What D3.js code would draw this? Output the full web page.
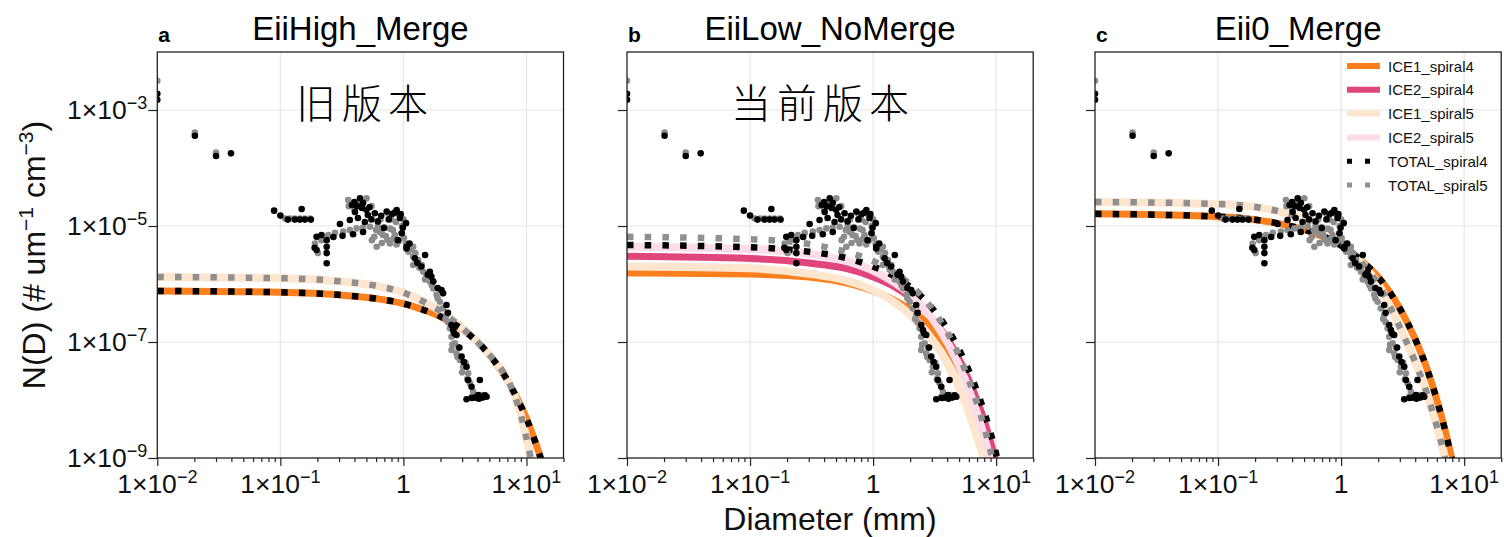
<!DOCTYPE html>
<html>
<head>
<meta charset="utf-8">
<script src="https://cdn.jsdelivr.net/npm/d3@7"></script>
<style>
  body { margin: 0; background: #fff; }
  svg { display: block; font-family: "Liberation Sans", Arial, Helvetica, sans-serif; }
</style>
</head>
<body>
<svg id="chart" width="1504" height="537"></svg>
<script>
// ---------------- data ----------------
// diameters (mm) at which the fitted size distributions were read
const diam = [0.01, 0.1, 0.3, 0.6, 1, 1.5, 2, 3, 4, 5, 6, 7, 8, 9, 10, 12, 14];

// panel a : EiiHigh_Merge  (N(D), # um^-1 cm^-3)
const a_ice1_s4 = [7.6e-7, 7.2e-7, 6.5e-7, 5.6e-7, 4.6e-7, 3.5e-7, 2.75e-7, 1.66e-7, 1.0e-7, 6.0e-8, 3.6e-8, 2.2e-8, 1.3e-8, 7.9e-9, 4.8e-9, 1.7e-9, 6.3e-10];
const a_ice1_s5 = [1.32e-6, 1.26e-6, 1.12e-6, 9.3e-7, 7.1e-7, 4.8e-7, 3.4e-7, 1.74e-7, 1.0e-7, 6.0e-8, 3.8e-8, 2.3e-8, 1.2e-8, 5.6e-9, 2.2e-9, 3.2e-10, 5e-11];
const a_total_s4 = a_ice1_s4;   // merged: total == ice1
const a_total_s5 = a_ice1_s5;

// panel b : EiiLow_NoMerge
const b_ice1_s4 = [1.55e-6, 1.48e-6, 1.32e-6, 1.05e-6, 7.6e-7, 5.2e-7, 3.6e-7, 1.74e-7, 7.9e-8, 3.5e-8, 1.58e-8, 7.1e-9, 3.2e-9, 1.32e-9, 5.6e-10, 1e-10, 1.6e-11];
const b_ice2_s4 = [3.0e-6, 2.75e-6, 2.3e-6, 1.86e-6, 1.32e-6, 8.9e-7, 5.9e-7, 2.6e-7, 1.15e-7, 5.0e-8, 2.2e-8, 9.8e-9, 4.4e-9, 1.9e-9, 8.5e-10, 1.7e-10, 3.2e-11];
const b_ice1_s5 = [2.0e-6, 1.86e-6, 1.5e-6, 1.15e-6, 7.8e-7, 4.8e-7, 2.95e-7, 1.12e-7, 4.3e-8, 1.6e-8, 6.2e-9, 2.3e-9, 8.9e-10, 3.4e-10, 1.3e-10, 2e-11, 2.5e-12];
const b_ice2_s5 = [4.4e-6, 4.0e-6, 3.3e-6, 2.5e-6, 1.7e-6, 1.05e-6, 6.6e-7, 2.6e-7, 1.0e-7, 3.9e-8, 1.5e-8, 5.9e-9, 2.3e-9, 8.9e-10, 3.5e-10, 5e-11, 8e-12];
const b_total_s4 = [4.7e-6, 4.3e-6, 3.6e-6, 2.82e-6, 2.0e-6, 1.35e-6, 8.9e-7, 3.9e-7, 1.7e-7, 7.4e-8, 3.2e-8, 1.41e-8, 6.2e-9, 2.7e-9, 1.17e-9, 2.2e-10, 4.3e-11];
const b_total_s5 = [6.5e-6, 5.9e-6, 4.9e-6, 3.6e-6, 2.5e-6, 1.55e-6, 9.8e-7, 3.8e-7, 1.48e-7, 5.8e-8, 2.2e-8, 8.7e-9, 3.4e-9, 1.32e-9, 5.1e-10, 8e-11, 1.3e-11];

// panel c : Eii0_Merge
const c_ice1_s4 = [1.62e-5, 1.45e-5, 1.12e-5, 7.6e-6, 4.6e-6, 2.4e-6, 1.32e-6, 3.8e-7, 1.12e-7, 3.4e-8, 1.0e-8, 3.0e-9, 8.9e-10, 2.6e-10, 8e-11, 6e-12, 6e-13];
const c_ice1_s5 = [2.6e-5, 2.4e-5, 1.82e-5, 1.1e-5, 5.2e-6, 2.2e-6, 1.0e-6, 1.78e-7, 4.5e-8, 1.26e-8, 3.5e-9, 1.0e-9, 2.8e-10, 8e-11, 2.5e-11, 2e-12, 1.6e-13];
const c_total_s4 = c_ice1_s4;
const c_total_s5 = c_ice1_s5;

// observations (same in every panel): [diameter mm, N(D)]
const obs_spiral4 = [
  [0.01, 1.9e-3], [0.01, 1.5e-3], [0.0202, 3.6e-4], [0.030, 1.61e-4], [0.0397, 1.79e-4],
  [0.089, 1.84e-5], [0.100, 1.51e-5], [0.115, 1.29e-5], [0.131, 1.29e-5], [0.144, 1.29e-5],
  [0.158, 1.29e-5], [0.177, 1.29e-5], [0.149, 1.96e-5], [0.197, 6.5e-6], [0.197, 3.85e-6],
  [0.238, 5.7e-6], [0.238, 4.4e-6], [0.238, 3.4e-6], [0.238, 2.28e-6], [0.216, 7.0e-6],
  [0.19, 4.2e-6], [0.27, 6.45e-6], [0.32, 6.76e-6], [0.39, 7.2e-6], [0.47, 7.9e-6],
  [0.444, 3.0e-5], [0.382, 2.3e-5], [0.404, 1.74e-5], [0.427, 1.37e-5], [0.460, 2.04e-5],
  [0.486, 1.17e-5], [0.367, 1.27e-5], [0.514, 1.55e-5], [0.586, 1.66e-5], [0.305, 1.08e-5],
  [0.40, 2.6e-5], [0.42, 2.2e-5], [0.47, 2.5e-5], [0.50, 1.9e-5], [0.53, 2.1e-5], [0.55, 1.3e-5],
  [0.62, 1.2e-5], [0.66, 1.5e-5], [0.76, 1.3e-5], [0.85, 1.7e-5], [0.95, 1.6e-5], [0.97, 7.5e-6],
  [0.731, 1.77e-5], [0.881, 1.89e-5], [0.807, 1.61e-5], [0.937, 1.37e-5], [0.695, 9.2e-6],
  [0.902, 5.7e-6], [0.99, 9.3e-6], [1.05, 1.12e-5], [1.06, 4.4e-6], [1.06, 4.1e-6], [1.12, 5.0e-6],
  [1.24, 2.77e-6], [1.30, 2.3e-6], [1.40, 2.0e-6], [1.50, 3.16e-6], [1.58, 1.45e-6], [1.64, 1.63e-6],
  [1.69, 1.34e-6], [1.75, 1.10e-6], [1.90, 8.5e-7],
  [2.04, 7.9e-7], [2.10, 6.9e-7], [2.24, 4.35e-7], [2.30, 3.2e-7], [2.46, 1.96e-7], [2.54, 1.61e-7],
  [2.60, 1.4e-7], [2.70, 1.32e-7], [2.85, 8.0e-8], [2.97, 5.6e-8], [3.10, 4.5e-8], [3.26, 3.75e-8],
  [3.36, 2.21e-8], [3.58, 1.69e-8], [4.18, 2.21e-8], [3.26, 1.03e-8], [4.06, 1.22e-8], [4.74, 1.14e-8],
  [3.60, 1.08e-8], [4.4, 1.1e-8], [3.8, 1.1e-8], [4.1, 1.05e-8], [4.6, 1.2e-8]
];
const obs_spiral5 = [
  [0.01, 3.2e-3], [0.0202, 4.1e-4], [0.030, 1.84e-4],
  [0.109, 1.35e-5], [0.120, 1.35e-5], [0.131, 1.35e-5], [0.144, 1.35e-5], [0.158, 1.35e-5], [0.174, 1.35e-5],
  [0.191, 5.0e-6], [0.202, 3.4e-6], [0.216, 5.7e-6],
  [0.245, 7.0e-6], [0.278, 7.6e-6], [0.324, 8.0e-6], [0.367, 8.5e-6], [0.417, 9.1e-6], [0.469, 9.4e-6],
  [0.535, 9.7e-6], [0.621, 1.0e-5], [0.356, 2.8e-5], [0.502, 3.0e-5], [0.444, 2.5e-5],
  [0.36, 2.2e-5], [0.40, 1.9e-5], [0.55, 2.2e-5],
  [0.555, 5.7e-6], [0.606, 4.4e-6], [0.668, 5.1e-6], [0.721, 6.7e-6], [0.776, 5.0e-6], [0.822, 8.5e-6],
  [0.869, 1.17e-5], [0.902, 1.61e-5], [0.748, 1.67e-5], [0.973, 1.0e-5], [1.01, 6.2e-6], [0.644, 7.9e-6],
  [0.58, 6.5e-6], [0.70, 9.5e-6], [0.80, 1.3e-5], [0.85, 7.0e-6], [0.95, 1.4e-5], [0.92, 5.5e-6], [0.65, 1.3e-5],
  [0.60, 8.5e-6], [0.68, 7.0e-6], [0.74, 5.8e-6], [0.78, 9.0e-6], [0.83, 6.0e-6], [0.88, 4.8e-6],
  [0.97, 7.5e-6], [1.0, 1.3e-5], [1.05, 5.0e-6], [1.15, 4.0e-6], [1.28, 2.4e-6],
  [1.10, 3.6e-6], [1.20, 4.4e-6], [1.20, 2.95e-6], [1.20, 2.13e-6], [1.25, 3.4e-6], [1.32, 2.6e-6],
  [1.35, 1.9e-6], [1.41, 2.13e-6], [1.45, 1.63e-6], [1.50, 1.2e-6], [1.54, 1.34e-6], [1.60, 1.5e-6],
  [1.64, 1.10e-6], [1.70, 9.5e-7], [1.75, 8.4e-7], [1.86, 6.5e-7], [1.90, 5.6e-7], [1.98, 4.95e-7],
  [2.10, 3.8e-7], [2.20, 2.5e-7], [2.24, 2.92e-7], [2.30, 2.2e-7],
  [2.39, 1.72e-7], [2.46, 1.23e-7], [2.46, 7.3e-8], [2.50, 9.0e-8], [2.55, 1.45e-7], [2.62, 9.5e-8],
  [2.70, 6.4e-8], [2.75, 5.5e-8], [2.80, 8.0e-8], [2.88, 4.9e-8], [3.0, 3.0e-8], [3.06, 3.75e-8],
  [3.20, 4.4e-8], [3.30, 2.3e-8], [3.36, 2.88e-8], [3.47, 1.94e-8], [3.69, 1.39e-8], [3.58, 1.14e-8],
  [3.75, 1.2e-8], [4.1, 1.15e-8], [4.32, 1.22e-8], [3.9, 1.12e-8]
];

// ticks
const xMajor = [0.01, 0.1, 1, 10];
const xMinor = [0.02,0.03,0.04,0.05,0.06,0.07,0.08,0.09, 0.2,0.3,0.4,0.5,0.6,0.7,0.8,0.9, 2,3,4,5,6,7,8,9, 20];
const yMajor = [1e-9, 1e-7, 1e-5, 1e-3];
const xGrid = [0.1, 1, 10];
const yGrid = [1e-7, 1e-5, 1e-3];

const panelTitles = ["EiiHigh_Merge", "EiiLow_NoMerge", "Eii0_Merge"];
const panelLetters = ["a", "b", "c"];
const panelNotes = ["旧版本", "当前版本", ""];
const seriesNames = ["ICE1_spiral4", "ICE2_spiral4", "ICE1_spiral5", "ICE2_spiral5", "TOTAL_spiral4", "TOTAL_spiral5"];

const panelSeries = [
  {ICE1_spiral4: a_ice1_s4, ICE1_spiral5: a_ice1_s5, TOTAL_spiral4: a_total_s4, TOTAL_spiral5: a_total_s5},
  {ICE1_spiral4: b_ice1_s4, ICE2_spiral4: b_ice2_s4, ICE1_spiral5: b_ice1_s5, ICE2_spiral5: b_ice2_s5,
   TOTAL_spiral4: b_total_s4, TOTAL_spiral5: b_total_s5},
  {ICE1_spiral4: c_ice1_s4, ICE1_spiral5: c_ice1_s5, TOTAL_spiral4: c_total_s4, TOTAL_spiral5: c_total_s5}
];

// ---------------- layout / style ----------------
const style = {
  ICE1_spiral4:  {color: "#fb7f1d", width: 7},
  ICE2_spiral4:  {color: "#e0467c", width: 7},
  ICE1_spiral5:  {color: "#fee5cd", width: 8},
  ICE2_spiral5:  {color: "#fcdce8", width: 8},
  TOTAL_spiral4: {color: "#000000", width: 6.5, dash: "6.5,11.2"},
  TOTAL_spiral5: {color: "#8f8f8f", width: 6.5, dash: "6.5,11.2"}
};

const panelLeft = [157.3, 627, 1095];
const plotW = 406.2, plotTop = 52, plotBottom = 458;
const notePos = [[365, 118], [823, 118]];

const svg = d3.select("#chart");
const minus = "−";

function tickLabel(sel, v, supSize, shift) {
  const e = Math.round(Math.log10(v));
  if (e === 0) { sel.append("tspan").text("1"); return; }
  sel.append("tspan").text("1×10");
  sel.append("tspan").attr("font-size", supSize).attr("dy", shift)
    .text(e < 0 ? minus + (-e) : String(e));
}

panelLeft.forEach((x0, p) => {
  const x = d3.scaleLog().domain([0.01, 20]).range([x0, x0 + plotW]);
  const y = d3.scaleLog().domain([1e-9, 1e-2]).range([plotBottom, plotTop]);
  const g = svg.append("g");

  g.append("clipPath").attr("id", "clip" + p)
    .append("rect").attr("x", x0).attr("y", plotTop).attr("width", plotW).attr("height", plotBottom - plotTop);

  // grid
  g.selectAll(".gx").data(xGrid).join("line")
    .attr("x1", d => x(d)).attr("x2", d => x(d)).attr("y1", plotTop).attr("y2", plotBottom)
    .attr("stroke", "#e6e6e6").attr("stroke-width", 1.2);
  g.selectAll(".gy").data(yGrid).join("line")
    .attr("y1", d => y(d)).attr("y2", d => y(d)).attr("x1", x0).attr("x2", x0 + plotW)
    .attr("stroke", "#e6e6e6").attr("stroke-width", 1.2);

  const plot = g.append("g").attr("clip-path", `url(#clip${p})`);

  // fitted curves
  const line = d3.line().x(d => x(d[0])).y(d => y(d[1])).curve(d3.curveMonotoneX);
  seriesNames.forEach(name => {
    const vals = panelSeries[p][name];
    if (!vals) return;
    const st = style[name];
    plot.append("path")
      .datum(diam.map((d, i) => [d, vals[i]]))
      .attr("d", line)
      .attr("fill", "none")
      .attr("stroke", st.color)
      .attr("stroke-width", st.width)
      .attr("stroke-dasharray", st.dash || null);
  });

  // observations
  plot.selectAll(".o5").data(obs_spiral5).join("circle")
    .attr("cx", d => x(d[0])).attr("cy", d => y(d[1])).attr("r", 3.3).attr("fill", "#8c8c8c");
  plot.selectAll(".o4").data(obs_spiral4).join("circle")
    .attr("cx", d => x(d[0])).attr("cy", d => y(d[1])).attr("r", 3.3).attr("fill", "#000");

  // frame
  g.append("rect").attr("x", x0).attr("y", plotTop).attr("width", plotW).attr("height", plotBottom - plotTop)
    .attr("fill", "none").attr("stroke", "#222").attr("stroke-width", 1.3);

  // x axis ticks
  const xAx = g.append("g").attr("transform", `translate(0,${plotBottom})`)
    .call(d3.axisBottom(x).tickValues(xMajor).tickSize(8).tickFormat(""));
  const xAxMin = g.append("g").attr("transform", `translate(0,${plotBottom})`)
    .call(d3.axisBottom(x).tickValues(xMinor).tickSize(4).tickFormat(""));
  [xAx, xAxMin].forEach(a => {
    a.select(".domain").remove();
    a.selectAll("line").attr("stroke", "#222").attr("stroke-width", 1.2);
  });
  xMajor.forEach(v => {
    const t = g.append("text").attr("x", x(v)).attr("y", 493)
      .attr("text-anchor", "middle").attr("font-size", 26.5).attr("fill", "#111");
    tickLabel(t, v, 18, -10);
  });

  // y axis ticks
  const yAx = g.append("g").attr("transform", `translate(${x0},0)`)
    .call(d3.axisLeft(y).tickValues(yMajor).tickSize(9).tickFormat(""));
  yAx.select(".domain").remove();
  yAx.selectAll("line").attr("stroke", "#222").attr("stroke-width", 1.2);
  if (p === 0) {
    yMajor.forEach(v => {
      const t = g.append("text").attr("x", x0 - 10).attr("y", y(v) + 9)
        .attr("text-anchor", "end").attr("font-size", 26.5).attr("fill", "#111");
      tickLabel(t, v, 18, -10);
    });
  }

  // titles
  g.append("text").attr("x", x0 + 1).attr("y", 42).attr("font-size", 21).attr("font-weight", "bold")
    .text(panelLetters[p]);
  g.append("text").attr("x", x0 + plotW / 2).attr("y", 40).attr("text-anchor", "middle")
    .attr("font-size", 33).text(panelTitles[p]);

  if (panelNotes[p]) {
    g.append("text").attr("x", notePos[p][0]).attr("y", notePos[p][1]).attr("text-anchor", "middle")
      .attr("font-family", "'Noto Sans CJK SC'").attr("font-size", 40).attr("letter-spacing", 6)
      .attr("font-weight", 300).text(panelNotes[p]);
  }

  // legend (panel c)
  if (p === 2) {
    const lg = g.append("g");
    seriesNames.forEach((name, i) => {
      const st = style[name];
      const yy = 66 + i * 23.8;
      const isDot = !!st.dash;
      lg.append("line").attr("x1", x0 + 252).attr("x2", x0 + 285).attr("y1", yy).attr("y2", yy)
        .attr("stroke", st.color).attr("stroke-width", isDot ? 5 : 6)
        .attr("stroke-dasharray", isDot ? "5,13" : null);
      lg.append("text").attr("x", x0 + 293).attr("y", yy + 5.5).attr("font-size", 15).attr("fill", "#111")
        .text(name);
    });
  }
});

// axis labels
const yl = svg.append("text").attr("transform", "translate(45,255) rotate(-90)")
  .attr("text-anchor", "middle").attr("font-size", 32).attr("fill", "#111");
yl.append("tspan").text("N(D) (# um");
yl.append("tspan").attr("font-size", 21).attr("dy", -12).text("−1");
yl.append("tspan").attr("dy", 12).text(" cm");
yl.append("tspan").attr("font-size", 21).attr("dy", -12).text("−3");
yl.append("tspan").attr("dy", 12).text(")");

svg.append("text").attr("x", 830).attr("y", 530).attr("text-anchor", "middle")
  .attr("font-size", 32).attr("fill", "#111").text("Diameter (mm)");

// red annotation, cut off by the top edge of the figure as in the source image
svg.append("text").attr("x", 1216).attr("y", -3.5).attr("font-family", "'Noto Sans CJK SC'")
  .attr("font-size", 28).attr("fill", "#ff2020").attr("letter-spacing", 2).text("新旧版本对比结果");
</script>
</body>
</html>
